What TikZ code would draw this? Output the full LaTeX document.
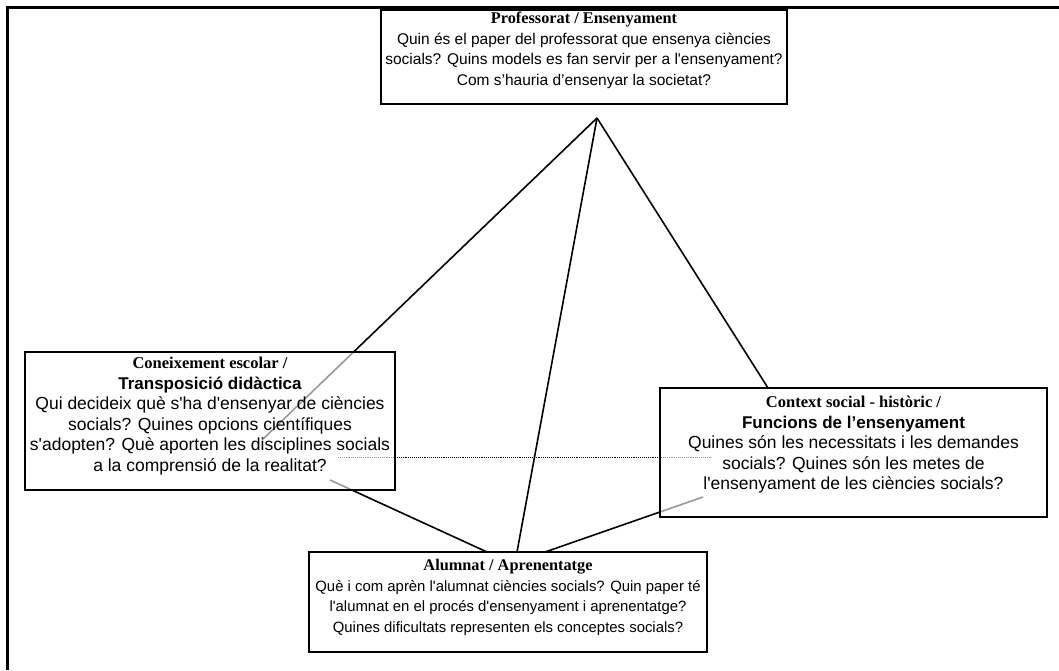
\documentclass[tikz,border=0pt]{standalone}
\usepackage{fontspec}
\newfontfamily\bodyfont{Liberation Sans}
\newfontfamily\headserif{Liberation Serif}
\usetikzlibrary{positioning}
\tikzset{
  panel/.style={draw=black, line width=1.4pt, fill=white, fill opacity=0.6, inner sep=0pt},
  panel text/.style={align=center, inner sep=0pt, font=\bodyfont\fontsize{15.5}{20.5}\selectfont},
  side text/.style={panel text, font=\bodyfont\fontsize{17.5}{20.5}\selectfont},
  base text/.style={panel text, font=\bodyfont\fontsize{14.9}{20.5}\selectfont},
  link/.style={line width=1.6pt},
  mirror/.style={densely dotted, line width=0.9pt}
}
\newcommand{\serifhead}[1]{{\headserif\bfseries\fontsize{16.3}{20.5}\selectfont #1}}
\newcommand{\sidehead}[1]{{\headserif\bfseries\fontsize{16.5}{20.5}\selectfont #1}}
\newcommand{\sidebold}[1]{{\bfseries\fontsize{17}{20.5}\selectfont #1}}

\begin{document}
\begin{tikzpicture}[x=1pt,y=-1pt]
\useasboundingbox (0,0) rectangle (1059,670);
% outer frame
\draw[line width=3pt] (7,670) -- (7,7) -- (1059,7);

% corners of the pyramid
\coordinate (apex) at (597,118);
\coordinate (knowEnd) at (262,440);
\coordinate (ctxEnd) at (768,388);
\coordinate (baseMid) at (517,552);
\coordinate (baseLeft) at (487,552);
\coordinate (baseRight) at (545,552);
\coordinate (knowLow) at (330,480);
\coordinate (ctxLow) at (703,497);
\coordinate (knowSide) at (338,457);
\coordinate (ctxSide) at (712,457);

\draw[link] (apex) -- (knowEnd);
\draw[link] (apex) -- (ctxEnd);
\draw[link] (apex) -- (baseMid);
\draw[link] (baseLeft) -- (knowLow);
\draw[link] (baseRight) -- (ctxLow);
\draw[mirror] (knowSide) -- (ctxSide);

% boxes
\node[panel, minimum width=406pt, minimum height=94pt] (prof) at (584,57) {};
\node[panel, minimum width=370pt, minimum height=138pt] (know) at (210,421) {};
\node[panel, minimum width=387pt, minimum height=129pt] (ctx) at (853.5,452.5) {};
\node[panel, minimum width=398pt, minimum height=100pt] (pupil) at (508,602) {};

% texts
\node[panel text, below=3pt of prof.north] (profTxt) {\serifhead{Professorat / Ensenyament}\\
  Quin és el paper del professorat que ensenya ciències\\
  socials? Quins models es fan servir per a l'ensenyament?\\
  Com s’hauria d’ensenyar la societat?};
\node[side text, below=6pt of know.north] (knowTxt) {\sidehead{Coneixement escolar /}\\
  \sidebold{Transposició didàctica}\\
  Qui decideix què s'ha d'ensenyar de ciències\\
  socials? Quines opcions científiques\\
  s'adopten? Què aporten les disciplines socials\\
  a la comprensió de la realitat?};
\node[side text, below=9pt of ctx.north] (ctxTxt) {\sidehead{Context social - històric /}\\
  \sidebold{Funcions de l’ensenyament}\\
  Quines són les necessitats i les demandes\\
  socials? Quines són les metes de\\
  l'ensenyament de les ciències socials?};
\node[base text, below=8pt of pupil.north] (pupilTxt) {\serifhead{Alumnat / Aprenentatge}\\
  Què i com aprèn l'alumnat ciències socials? Quin paper té\\
  l'alumnat en el procés d'ensenyament i aprenentatge?\\
  Quines dificultats representen els conceptes socials?};
\end{tikzpicture}
\end{document}
